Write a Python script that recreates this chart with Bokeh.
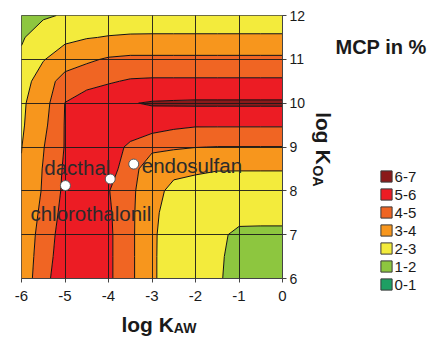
import numpy as np
from bokeh.plotting import figure
from bokeh.layouts import row, column
from bokeh.models import Range1d, Label, Legend, LegendItem, ColumnDataSource
from bokeh.core.properties import value
from bokeh.embed import file_html
from bokeh.resources import INLINE

# ---- data ----
log_kaw = [-6.0, -5.5, -5.0, -4.5, -4.0, -3.5, -3.0, -2.5, -2.0, -1.5, -1.0, -0.5, 0.0]
log_koa = [6.0, 6.5, 7.0, 7.5, 8.0, 8.5, 9.0, 9.5, 10.0, 10.5, 11.0, 11.5, 12.0]

# MCP in % (rows: log KOA from 6 to 12, columns: log KAW from -6 to 0)
mcp_koa_6_0 = [3.4, 4.6, 5.8, 5.8, 5.2, 4.2, 3.2, 2.3, 2.3, 2.1, 1.7, 1.6, 1.6]
mcp_koa_6_5 = [3.35, 4.5, 5.6, 5.8, 5.2, 4.2, 3.2, 2.3, 2.3, 2.12, 1.75, 1.65, 1.65]
mcp_koa_7_0 = [3.3, 4.4, 5.5, 5.8, 5.2, 4.2, 3.2, 2.35, 2.35, 2.15, 1.85, 1.8, 1.8]
mcp_koa_7_5 = [3.2, 4.25, 5.35, 5.8, 5.15, 4.2, 3.25, 2.5, 2.45, 2.35, 2.25, 2.3, 2.3]
mcp_koa_8_0 = [3.1, 4.1, 5.22, 5.8, 5.05, 4.2, 3.4, 2.7, 2.6, 2.55, 2.5, 2.5, 2.5]
mcp_koa_8_5 = [3.05, 4.05, 5.15, 5.8, 5.4, 4.49, 3.27, 3.3, 3.15, 3.05, 3.05, 3.05, 3.05]
mcp_koa_9_0 = [2.98, 3.95, 5.05, 5.8, 5.5, 4.8, 4.28, 4.1, 4.02, 3.98, 3.98, 3.98, 3.98]
mcp_koa_9_5 = [2.88, 3.74, 5.05, 5.8, 5.7, 5.6, 5.44, 5.22, 5.09, 5.09, 5.09, 5.09, 5.09]
mcp_koa_10_0 = [2.85, 3.56, 5.02, 5.6, 5.7, 5.95, 6.08, 6.12, 6.15, 6.15, 6.15, 6.15, 6.15]
mcp_koa_10_5 = [2.6, 3.47, 4.42, 4.6, 4.9, 5.1, 5.15, 5.15, 5.15, 5.15, 5.15, 5.15, 5.15]
mcp_koa_11_0 = [2.2, 2.95, 3.45, 3.85, 4.1, 4.2, 4.2, 4.2, 4.2, 4.2, 4.2, 4.2, 4.2]
mcp_koa_11_5 = [1.88, 2.61, 2.8, 2.95, 3.05, 3.1, 3.1, 3.1, 3.1, 3.1, 3.1, 3.1, 3.1]
mcp_koa_12_0 = [1.5, 1.85, 2.1, 2.3, 2.4, 2.45, 2.5, 2.5, 2.5, 2.5, 2.5, 2.5, 2.5]

mcp_rows = [mcp_koa_6_0, mcp_koa_6_5, mcp_koa_7_0, mcp_koa_7_5, mcp_koa_8_0,
            mcp_koa_8_5, mcp_koa_9_0, mcp_koa_9_5, mcp_koa_10_0, mcp_koa_10_5,
            mcp_koa_11_0, mcp_koa_11_5, mcp_koa_12_0]

levels = [0, 1, 2, 3, 4, 5, 6, 7]
class_labels = ["0-1", "1-2", "2-3", "3-4", "4-5", "5-6", "6-7"]
class_colors = ["#1E9F63", "#8DC63F", "#F3EB3C", "#F7961D", "#F06523", "#EC1C24", "#8B1A1A"]

chem_names = ["chlorothalonil", "dacthal", "endosulfan"]
chem_kaw = [-4.99, -3.96, -3.42]
chem_koa = [8.12, 8.27, 8.61]

x_ticks = [-6, -5, -4, -3, -2, -1, 0]
y_ticks = [6, 7, 8, 9, 10, 11, 12]

# ---- layout / style ----
label_dx = [-35, -66, 8]
label_dy = [28, -11, 1]
FONT = "Liberation Sans"
MAIN_W, MAIN_H = 308, 308
SIDE_W = 120
BOT_H = 28
TOTAL_H = MAIN_H + BOT_H

# main contour figure
p = figure(width=MAIN_W, height=MAIN_H,
           x_range=Range1d(-6, 0), y_range=Range1d(6, 12),
           y_axis_location="right",
           output_backend="svg", toolbar_location=None,
           min_border_left=21, min_border_right=24,
           min_border_top=15, min_border_bottom=30)

p.contour(log_kaw, log_koa, np.array(mcp_rows), levels,
          fill_color=class_colors, line_color="#111111", line_width=1)

p.xaxis.ticker = x_ticks
p.yaxis.ticker = y_ticks
p.xaxis.major_label_overrides = {t: str(t) for t in x_ticks}
p.yaxis.major_label_overrides = {t: str(t) for t in y_ticks}
for g in (p.xgrid, p.ygrid):
    g.grid_line_color = "#1a1a1a"
    g.grid_line_width = 1
    g.grid_line_alpha = 0.9
    g.level = "guide"

p.outline_line_color = "#444444"
p.outline_line_width = 1

for ax in (p.xaxis, p.yaxis):
    ax.axis_line_color = "#444444"
    ax.major_tick_line_color = "#444444"
    ax.major_tick_out = 4
    ax.major_tick_in = 0
    ax.minor_tick_line_color = None
    ax.major_label_text_font = FONT
    ax.major_label_text_color = "#1a1a1a"
p.xaxis.major_label_text_font_size = "15px"
p.xaxis.major_label_standoff = 8
p.yaxis.major_label_text_font_size = "14px"
p.yaxis.major_label_standoff = 3

src = ColumnDataSource(dict(x=chem_kaw, y=chem_koa, name=chem_names, dx=label_dx, dy=label_dy))
p.scatter(x="x", y="y", source=src, size=10, fill_color="white",
          line_color="#555555", line_width=1, level="overlay")
p.text(x="x", y="y", text="name", x_offset="dx", y_offset="dy", source=src,
       text_font=value(FONT), text_font_size="20.5px", text_color="#2b2b2b",
       text_align="left", text_baseline="alphabetic", level="overlay")


def blank_fig(w, h, xr, yr, left=0, right=0):
    f = figure(width=w, height=h, x_range=xr, y_range=yr,
               output_backend="svg", toolbar_location=None,
               x_axis_location=None, y_axis_location=None,
               min_border=0, min_border_left=left, min_border_right=right,
               min_border_top=0, min_border_bottom=0)
    f.xgrid.visible = False
    f.ygrid.visible = False
    f.outline_line_color = None
    return f


def lab(f, x, y, t, size, angle=0.0):
    f.add_layout(Label(x=x, y=y, text=t, text_font=FONT, text_font_size=size,
                       text_font_style="bold", text_color="#1a1a1a", angle=angle,
                       text_align="left", text_baseline="alphabetic"))


# bottom strip under the main plot: x title (same x mapping as the main plot)
pb = blank_fig(MAIN_W, BOT_H, Range1d(-6, 0), Range1d(0, BOT_H), left=21, right=24)
lab(pb, -3.703, 12.3, "log K", "21px")
lab(pb, -2.498, 8.6, "AW", "14px")

# right side: y title, legend title, legend (pixel-like coordinates)
ps = blank_fig(SIDE_W, TOTAL_H, Range1d(0, SIDE_W), Range1d(0, TOTAL_H))
lab(ps, 27, 289.3, "MCP in %", "20px")
lab(ps, 15.3, 224.3, "log K", "21px", angle=-np.pi / 2)
lab(ps, 9.0, 171, "OA", "14px", angle=-np.pi / 2)

items = []
for lbl, col in reversed(list(zip(class_labels, class_colors))):
    r = ps.quad(left=[np.nan], right=[np.nan], top=[np.nan], bottom=[np.nan],
                fill_color=col, line_color="#3a3a3a", line_width=1)
    items.append(LegendItem(label=lbl, renderers=[r]))
legend = Legend(items=items, location=(70.6, 43.4), padding=0, margin=0,
                spacing=1, glyph_width=14, glyph_height=14, label_height=14,
                label_standoff=2, label_text_font=FONT, label_text_font_size="15px",
                label_text_color="#1a1a1a", border_line_color=None,
                background_fill_alpha=0)
ps.add_layout(legend)

layout = row(column(p, pb), ps)
open("out.html", "w").write(file_html(layout, INLINE))
